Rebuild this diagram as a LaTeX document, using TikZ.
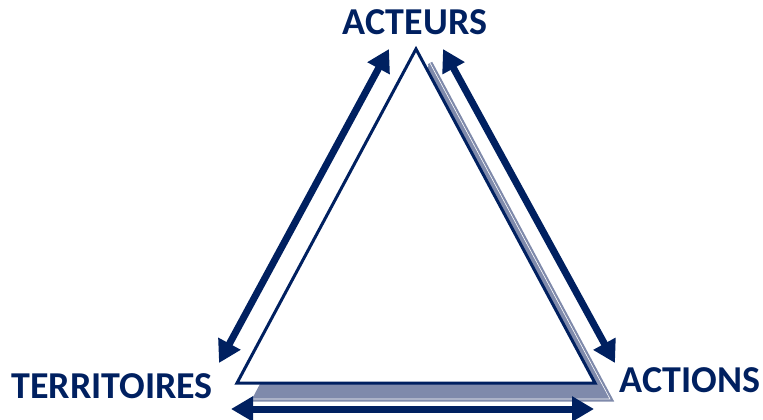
\documentclass[tikz,border=0pt]{standalone}
\usepackage{fontspec}
\setmainfont{Carlito}
\usetikzlibrary{arrows.meta}
\definecolor{navy}{HTML}{002060}
\definecolor{ombre}{HTML}{7F8AAB}
\tikzset{
  fleche/.style={navy,line width=7pt,{Triangle[width=24pt,length=22pt]}-{Triangle[width=24pt,length=22pt]}},
  etiquette/.style={navy,font=\bfseries\fontsize{38}{38}\selectfont,inner sep=0pt}
}
\begin{document}
\begin{tikzpicture}[x=1pt,y=-1pt]
\useasboundingbox (0,0) rectangle (763,420);
% triangle et son ombre
\coordinate (A) at (416,49); \coordinate (B) at (237,383); \coordinate (C) at (595,383);
\coordinate (A2) at (430,63); \coordinate (B2) at (252,399); \coordinate (C2) at (610,399);
\fill[ombre] (A2)--(B2)--(C2)--cycle;
\draw[ombre,line width=2.2pt,double=white,double distance=0.6pt,line join=miter] (A2)--(C2)--(B2);
\draw[navy,line width=3pt,fill=white,line join=miter] (A)--(B)--(C)--cycle;
% fleches
\coordinate (G1) at (389,49); \coordinate (G2) at (219,363);
\coordinate (D1) at (443,49); \coordinate (D2) at (615,363);
\coordinate (H1) at (231,409); \coordinate (H2) at (594,409);
\draw[fleche] (G1)--(G2);
\draw[fleche] (D1)--(D2);
\draw[fleche] (H1)--(H2);
% textes
\node[etiquette] (acteurs) at (415,22) {ACTEURS};
\node[etiquette] (territoires) at (112,386) {TERRITOIRES};
\node[etiquette] (actions) at (690,380) {ACTIONS};
\end{tikzpicture}
\end{document}
